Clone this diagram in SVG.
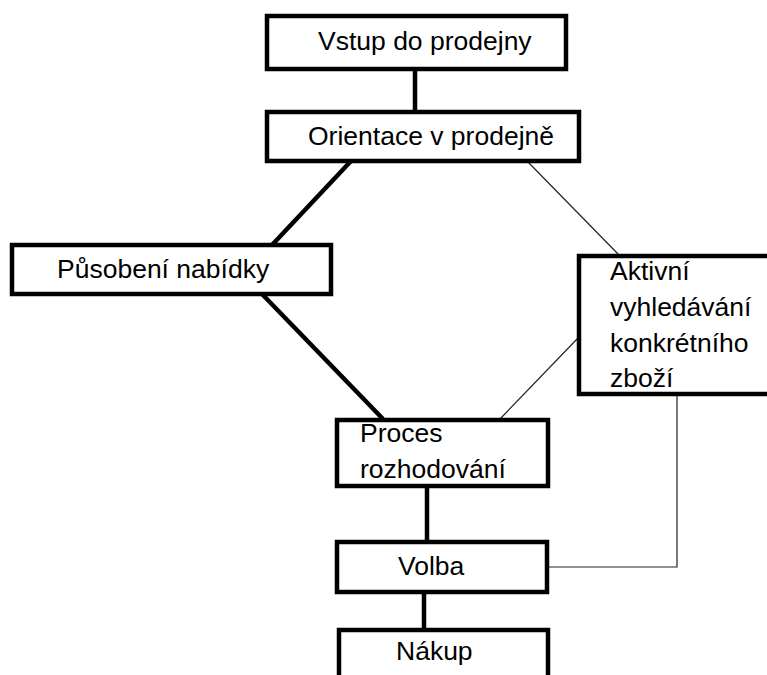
<svg xmlns="http://www.w3.org/2000/svg" width="767" height="675" viewBox="0 0 767 675">
<style>
.box{fill:#fff;stroke:#000;stroke-width:4.5}
.t{font-family:"Liberation Sans",Arial,sans-serif;font-size:26.5px;fill:#000}
.thick{stroke:#000;stroke-width:4.5;fill:none}
.thin{stroke:#222;stroke-width:1.2;fill:none}
</style>
<rect width="767" height="675" fill="#fff"/>
<g id="connectors">
<line class="thick" x1="415" y1="68" x2="415" y2="112"/>
<line class="thick" x1="351" y1="161" x2="272" y2="245"/>
<line class="thick" x1="262" y1="294" x2="383" y2="419"/>
<line class="thin" x1="527" y1="161" x2="619" y2="255"/>
<line class="thin" x1="578" y1="338" x2="500" y2="419"/>
<line class="thick" x1="427" y1="486" x2="427" y2="541"/>
<line class="thick" x1="424" y1="592" x2="424" y2="630"/>
<polyline class="thin" points="677,394 677,567 549,567"/>
</g>
<g id="vstup">
<rect class="box" x="267" y="16" width="299" height="53"/>
<text class="t" x="318" y="50">Vstup do prodejny</text>
</g>
<g id="orientace">
<rect class="box" x="267" y="112" width="312" height="49"/>
<text class="t" x="308" y="145">Orientace v prodejně</text>
</g>
<g id="pusobeni">
<rect class="box" x="12" y="245" width="319" height="49"/>
<text class="t" x="57" y="278">Působení nabídky</text>
</g>
<g id="aktivni">
<rect class="box" x="579" y="256" width="200" height="138"/>
<text class="t" x="610" y="280">Aktivní</text>
<text class="t" x="610" y="316">vyhledávání</text>
<text class="t" x="610" y="352">konkrétního</text>
<text class="t" x="610" y="387">zboží</text>
</g>
<g id="proces">
<rect class="box" x="337" y="420" width="211" height="66"/>
<text class="t" x="360" y="442">Proces</text>
<text class="t" x="360" y="478">rozhodování</text>
</g>
<g id="volba">
<rect class="box" x="337" y="542" width="210" height="50"/>
<text class="t" x="398" y="575">Volba</text>
</g>
<g id="nakup">
<rect class="box" x="339" y="630" width="209" height="60"/>
<text class="t" x="396" y="660">Nákup</text>
</g>
</svg>
